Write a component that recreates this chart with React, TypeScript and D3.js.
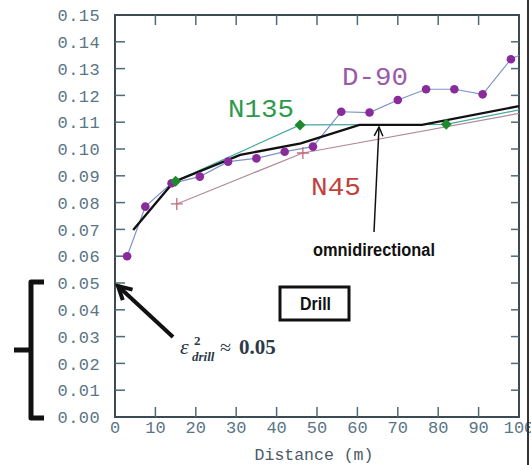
import React from "react";
import * as d3 from "d3";

// ---- data ----
const xTicks = [0, 10, 20, 30, 40, 50, 60, 70, 80, 90, 100];
const yTicks = [0, 0.01, 0.02, 0.03, 0.04, 0.05, 0.06, 0.07, 0.08, 0.09, 0.1, 0.11, 0.12, 0.13, 0.14, 0.15];

const d90Dist = [3, 7.5, 14, 21, 28, 35, 42, 49, 56, 63, 70, 77, 84, 91, 98, 105];
const d90Val = [0.06, 0.0785, 0.0872, 0.0897, 0.0953, 0.0965, 0.099, 0.1009, 0.1139, 0.1136, 0.1183, 0.1223, 0.1223, 0.1204, 0.1335, 0.1385];

const n135Dist = [15, 45.8, 82, 112];
const n135Val = [0.088, 0.109, 0.1092, 0.1182];

const n45Dist = [15.3, 46.5, 112];
const n45Val = [0.0795, 0.0985, 0.1166];

const omniDist = [4.5, 14.5, 31, 46, 60.5, 76, 100];
const omniVal = [0.0698, 0.0877, 0.0978, 0.1021, 0.109, 0.109, 0.116];

const drillValue = 0.05;

const W = 531;
const H = 465;

export default function App() {
  const x = d3.scaleLinear().domain([0, 100]).range([115, 519]);
  const y = d3.scaleLinear().domain([0, 0.15]).range([417, 15]);
  const line = d3
    .line<[number, number]>()
    .x((d) => x(d[0]))
    .y((d) => y(d[1]));
  const pts = (ds: number[], vs: number[]) => ds.map((d, i) => [d, vs[i]] as [number, number]);

  const d90 = pts(d90Dist, d90Val);
  const n135 = pts(n135Dist, n135Val);
  const n45 = pts(n45Dist, n45Val);
  const omni = pts(omniDist, omniVal);

  const tickCol = "#4f6a78";
  const labCol = "#5a7585";
  const mono = "'Liberation Mono', 'DejaVu Sans Mono', monospace";

  // omni arrow
  const oa = { x1: 374, y1: 232, x2: 379, y2: 127 };
  // drill arrow: pointing to (0, 0.05)
  const tipX = x(0) + 3;
  const tipY = y(drillValue) + 3;
  const tailX = 173;
  const tailY = 337;
  const ang = Math.atan2(tailY - tipY, tailX - tipX);
  const ah = 15;
  const spread = 0.5;

  const oAng = Math.atan2(oa.y1 - oa.y2, oa.x1 - oa.x2);

  return (
    <svg width={W} height={H} style={{ position: "absolute", left: 0, top: 0, background: "#fff" }}>
      <defs>
        <clipPath id="plot">
          <rect x={x(0)} y={y(0.15)} width={x(100) - x(0)} height={y(0) - y(0.15)} />
        </clipPath>
      </defs>
      <rect x={0} y={0} width={W} height={H} fill="#fff" />

      {/* frame */}
      <rect
        x={x(0)}
        y={y(0.15)}
        width={x(100) - x(0)}
        height={y(0) - y(0.15)}
        fill="none"
        stroke="#3c4a54"
        strokeWidth={2}
      />

      {/* ticks */}
      {xTicks.slice(1, -1).map((t) => (
        <g key={"xt" + t}>
          <line x1={x(t)} x2={x(t)} y1={y(0)} y2={y(0) - 10} stroke={tickCol} strokeWidth={1.5} />
          <line x1={x(t)} x2={x(t)} y1={y(0.15)} y2={y(0.15) + 10} stroke={tickCol} strokeWidth={1.5} />
        </g>
      ))}
      {yTicks.slice(1, -1).map((t) => (
        <g key={"yt" + t}>
          <line x1={x(0)} x2={x(0) + 10} y1={y(t)} y2={y(t)} stroke={tickCol} strokeWidth={1.5} />
          <line x1={x(100)} x2={x(100) - 8} y1={y(t)} y2={y(t)} stroke={tickCol} strokeWidth={1.5} />
        </g>
      ))}

      {/* tick labels */}
      {yTicks.map((t) => (
        <text
          key={"yl" + t}
          x={100}
          y={y(t)}
          dy="0.36em"
          textAnchor="end"
          fontFamily={mono}
          fontSize={17}
          letterSpacing={0.4}
          fill={labCol}
        >
          {t.toFixed(2)}
        </text>
      ))}
      {xTicks.map((t) => (
        <text
          key={"xl" + t}
          x={x(t)}
          y={433}
          textAnchor="middle"
          fontFamily={mono}
          fontSize={17}
          fill={labCol}
        >
          {t}
        </text>
      ))}
      <text x={314} y={460} textAnchor="middle" fontFamily={mono} fontSize={16.5} fill="#4a5a66">
        Distance (m)
      </text>

      {/* series */}
      <g clipPath="url(#plot)">
        <path d={line(n45) || ""} fill="none" stroke="#b08a9c" strokeWidth={1.2} />
        <path d={line(n135) || ""} fill="none" stroke="#45a8a0" strokeWidth={1.2} />
        <path d={line(d90) || ""} fill="none" stroke="#7d92c8" strokeWidth={1.2} />
        <path d={line(omni) || ""} fill="none" stroke="#111" strokeWidth={2.4} />
        {d90.map((p, i) => (
          <circle key={"c" + i} cx={x(p[0])} cy={y(p[1])} r={4.3} fill="#8a2b9c" />
        ))}
        {n135.map((p, i) => (
          <path
            key={"dm" + i}
            d={`M${x(p[0])},${y(p[1]) - 5.5}L${x(p[0]) + 5.5},${y(p[1])}L${x(p[0])},${y(p[1]) + 5.5}L${x(p[0]) - 5.5},${y(p[1])}Z`}
            fill="#1d8a2e"
          />
        ))}
        {n45.map((p, i) => (
          <path
            key={"pl" + i}
            d={`M${x(p[0]) - 6},${y(p[1])}H${x(p[0]) + 6}M${x(p[0])},${y(p[1]) - 6}V${y(p[1]) + 6}`}
            stroke="#c26a7c"
            strokeWidth={1.3}
          />
        ))}
      </g>

      {/* series labels */}
      <text x={228} y={117} fontFamily={mono} fontSize={26} textLength={66} lengthAdjust="spacingAndGlyphs" fill="#2f9a4c">
        N135
      </text>
      <text x={342} y={85} fontFamily={mono} fontSize={26} textLength={66} lengthAdjust="spacingAndGlyphs" fill="#9a5aaa">
        D-90
      </text>
      <text x={311} y={195} fontFamily={mono} fontSize={26} textLength={50} lengthAdjust="spacingAndGlyphs" fill="#c2403e">
        N45
      </text>

      {/* omnidirectional arrow & label */}
      <line x1={oa.x1} y1={oa.y1} x2={oa.x2} y2={oa.y2} stroke="#111" strokeWidth={1.5} />
      <path
        d={`M${oa.x2 + 10 * Math.cos(oAng + 0.45)},${oa.y2 + 10 * Math.sin(oAng + 0.45)}L${oa.x2},${oa.y2}L${oa.x2 + 10 * Math.cos(oAng - 0.45)},${oa.y2 + 10 * Math.sin(oAng - 0.45)}`}
        fill="none"
        stroke="#111"
        strokeWidth={1.5}
      />
      <text
        x={313}
        y={256}
        fontFamily="'Liberation Sans', Arial, sans-serif"
        fontWeight="bold"
        fontSize={18}
        textLength={122}
        lengthAdjust="spacingAndGlyphs"
        fill="#111"
      >
        omnidirectional
      </text>

      {/* Drill box */}
      <rect x={280} y={287} width={69} height={33} fill="none" stroke="#111" strokeWidth={3} />
      <text
        x={300}
        y={310}
        fontFamily="'Liberation Sans', Arial, sans-serif"
        fontWeight="bold"
        fontSize={18}
        textLength={31}
        lengthAdjust="spacingAndGlyphs"
        fill="#111"
      >
        Drill
      </text>

      {/* drill arrow */}
      <line x1={tailX} y1={tailY} x2={tipX} y2={tipY} stroke="#111" strokeWidth={4} />
      <path
        d={`M${tipX + ah * Math.cos(ang + spread)},${tipY + ah * Math.sin(ang + spread)}L${tipX},${tipY}L${tipX + ah * Math.cos(ang - spread)},${tipY + ah * Math.sin(ang - spread)}`}
        fill="none"
        stroke="#111"
        strokeWidth={4}
      />

      {/* epsilon label */}
      <g fill="#2c3a48" fontFamily="'Liberation Serif', 'DejaVu Serif', serif">
        <text x={180} y={354} fontSize={22} fontStyle="italic">
          ε
        </text>
        <text x={194} y={345} fontSize={13} fontWeight="bold">
          2
        </text>
        <text x={192} y={361} fontSize={13} fontStyle="italic" fontWeight="bold">
          drill
        </text>
        <text x={220} y={354} fontSize={20}>
          ≈
        </text>
        <text x={239} y={354} fontSize={21} fontWeight="bold">
          0.05
        </text>
      </g>

      {/* bracket */}
      <path
        d={`M44,${y(drillValue) - 1}H31V${y(0) + 1}H44M31,${(y(drillValue) + y(0)) / 2}H14`}
        fill="none"
        stroke="#111"
        strokeWidth={5}
        strokeLinejoin="round"
      />

      {/* outer right border */}
      <line x1={528} x2={528} y1={0} y2={H} stroke="#333" strokeWidth={2} />
    </svg>
  );
}
